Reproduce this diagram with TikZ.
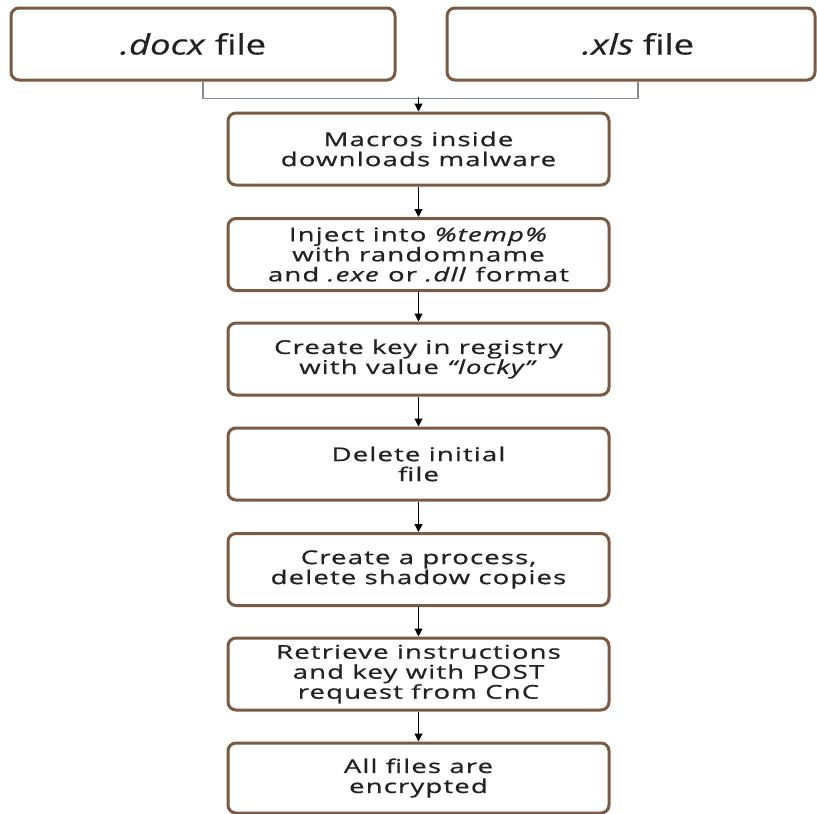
\documentclass[tikz,border=0pt]{standalone}
\usepackage{fontspec}
\setmainfont{Open Sans}[FakeStretch=1.3, FakeBold=0.5]
\newfontfamily\stepfont{Open Sans}[FakeStretch=1.45, LetterSpace=6, FakeBold=0.8]
\usetikzlibrary{arrows.meta}

\definecolor{boxbrown}{HTML}{7A5A42}
\definecolor{feedgray}{HTML}{8C8C8C}
\definecolor{inkgray}{HTML}{222222}

\tikzset{
  filebox/.style={draw=boxbrown, line width=3pt, rounded corners=8pt, fill=white,
    minimum height=72pt, inner sep=0pt, text=inkgray, font=\fontsize{28}{30}\selectfont},
  stepbox/.style={draw=boxbrown, line width=3pt, rounded corners=8pt, fill=white,
    minimum width=381pt, minimum height=72pt, inner sep=0pt, align=center, text=inkgray,
    font=\stepfont\fontsize{19}{20}\selectfont},
  link/.style={draw=black, line width=1.1pt, -{Triangle[length=8pt,width=8pt]}},
  feed/.style={draw=feedgray, line width=1.5pt}
}

\begin{document}
\begin{tikzpicture}[x=1pt, y=-1pt]
  \useasboundingbox (0,0) rectangle (817,814);

  % the two infected documents
  \node[filebox, minimum width=384pt] (docx) at (203,44) {\textit{.docx} file\hspace*{20pt}};
  \node[filebox, minimum width=368pt] (xls)  at (631,44) {\hspace*{14pt}\textit{.xls} file};

  % infection chain
  \node[stepbox] (s1) at (418.5,149)   {Macros inside\\downloads malware};
  \node[stepbox] (s2) at (418.5,254.5) {Inject into \textit{\%temp\%}\\with randomname\\and \textit{.exe} or \textit{.dll} format};
  \node[stepbox] (s3) at (418.5,359)   {Create key in registry\\with value \textit{“locky”}};
  \node[stepbox] (s4) at (418.5,464)   {Delete initial\\file};
  \node[stepbox] (s5) at (418.5,569.5) {Create a process,\\delete shadow copies};
  \node[stepbox] (s6) at (418.5,674)   {Retrieve instructions\\and key with POST\\request from CnC};
  \node[stepbox, minimum height=70pt] (s7) at (418.5,778) {All files are\\encrypted};

  % both documents feed into the first step
  \coordinate (join) at (s1.north |- 0,97);
  \draw[feed] (docx.south) -- ++(0,17) -| ([xshift=7pt]xls.south);
  \draw[link] (join) -- (s1.north);

  \draw[link] (s1) -- (s2);
  \draw[link] (s2) -- (s3);
  \draw[link] (s3) -- (s4);
  \draw[link] (s4) -- (s5);
  \draw[link] (s5) -- (s6);
  \draw[link] (s6) -- (s7);
\end{tikzpicture}
\end{document}
